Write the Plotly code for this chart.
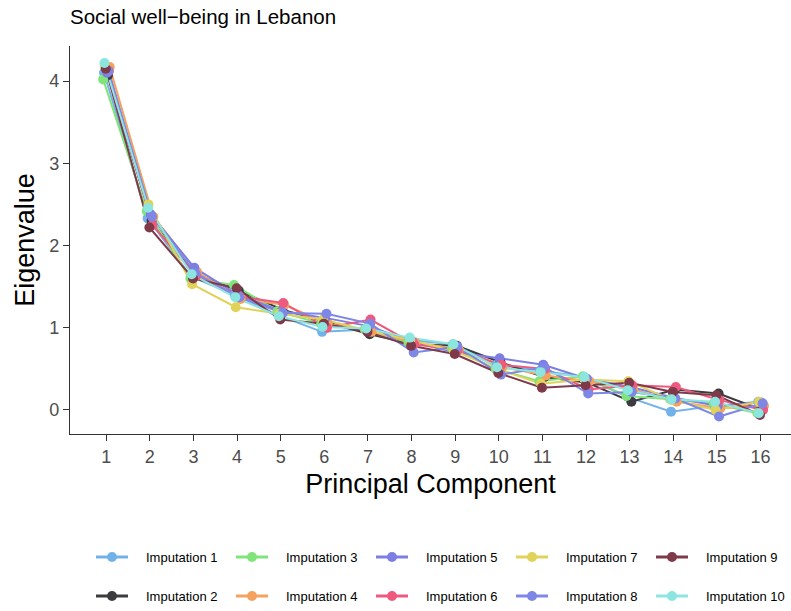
import plotly.graph_objects as go

# Eigenvalues of the 16 principal components, one list per imputed dataset
components = list(range(1, 17))

imp1 = [4.10, 2.33, 1.62, 1.40, 1.15, 0.95, 0.98, 0.85, 0.80, 0.55, 0.48, 0.40, 0.16, -0.02, 0.05, 0.10]
imp2 = [4.07, 2.30, 1.65, 1.45, 1.22, 1.07, 0.92, 0.80, 0.78, 0.58, 0.40, 0.33, 0.10, 0.25, 0.20, 0.00]
imp3 = [4.02, 2.42, 1.60, 1.52, 1.20, 1.05, 0.98, 0.82, 0.75, 0.50, 0.35, 0.41, 0.17, 0.13, 0.08, -0.04]
imp4 = [4.17, 2.35, 1.68, 1.35, 1.28, 1.05, 0.95, 0.82, 0.74, 0.52, 0.42, 0.35, 0.25, 0.10, 0.02, 0.05]
imp5 = [4.10, 2.38, 1.73, 1.40, 1.20, 1.12, 1.02, 0.83, 0.70, 0.63, 0.55, 0.38, 0.28, 0.15, 0.05, 0.09]
imp6 = [4.12, 2.25, 1.63, 1.38, 1.30, 1.00, 1.10, 0.80, 0.73, 0.55, 0.50, 0.25, 0.30, 0.28, 0.12, 0.00]
imp7 = [4.18, 2.50, 1.53, 1.25, 1.17, 1.10, 0.97, 0.85, 0.72, 0.50, 0.32, 0.37, 0.35, 0.12, 0.00, 0.10]
imp8 = [4.12, 2.35, 1.66, 1.37, 1.18, 1.17, 1.05, 0.70, 0.77, 0.43, 0.52, 0.20, 0.22, 0.14, -0.08, 0.08]
imp9 = [4.15, 2.22, 1.60, 1.48, 1.10, 1.05, 0.95, 0.78, 0.68, 0.45, 0.27, 0.30, 0.33, 0.22, 0.18, -0.06]
imp10 = [4.22, 2.46, 1.65, 1.37, 1.14, 1.01, 0.99, 0.88, 0.80, 0.52, 0.46, 0.40, 0.24, 0.13, 0.10, -0.04]

series = [imp1, imp2, imp3, imp4, imp5, imp6, imp7, imp8, imp9, imp10]
names = [f"Imputation {i}" for i in range(1, 11)]
colors = ["#72b2ea", "#3b3b40", "#80e47a", "#f4a25e", "#7c7ee4",
          "#ee5a7e", "#e1d25a", "#7e87e6", "#7f3a4a", "#8ce6df"]
# small horizontal dodge per imputation so overlapping points stay visible
dodge = [-0.05, 0.04, -0.07, 0.08, 0.02, 0.06, -0.03, 0.05, -0.01, -0.04]

FONT = "Liberation Sans, Arial, sans-serif"
fig = go.Figure()

# lines first, then points on top (like a line + point layer stack)
for vals, c, d, n in zip(series, colors, dodge, names):
    fig.add_trace(go.Scatter(x=[k + d for k in components], y=vals, mode="lines",
                             line=dict(color=c, width=2), name=n,
                             showlegend=False, hoverinfo="skip"))
for vals, c, d, n in zip(series, colors, dodge, names):
    fig.add_trace(go.Scatter(x=[k + d for k in components], y=vals, mode="markers",
                             marker=dict(color=c, size=10, line=dict(width=0)),
                             name=n, showlegend=False))

# legend: 2 rows x 5 columns, filled column by column
L, T, W, H = 70, 46, 721, 388
def px(xp):
    return (xp - L) / W
def py(yp):
    return (T + H - yp) / H

shapes, annos = [], []
for i, (n, c) in enumerate(zip(names, colors)):
    col, row = divmod(i, 2)
    cx = 112 + 140 * col
    cy = 557 + 39 * row
    shapes.append(dict(type="line", xref="paper", yref="paper",
                       x0=px(cx - 16), x1=px(cx + 16), y0=py(cy), y1=py(cy),
                       line=dict(color=c, width=3)))
    shapes.append(dict(type="circle", xref="paper", yref="paper",
                       xsizemode="pixel", ysizemode="pixel",
                       xanchor=px(cx), yanchor=py(cy),
                       x0=-5, x1=5, y0=-5, y1=5,
                       fillcolor=c, line=dict(width=0)))
    annos.append(dict(text=n, xref="paper", yref="paper", x=px(cx + 32), y=py(cy),
                      xanchor="left", yanchor="middle", showarrow=False,
                      font=dict(family=FONT, size=13, color="#000000")))

fig.update_layout(
    width=791, height=611,
    margin=dict(l=L, r=0, t=T, b=611 - T - H),
    paper_bgcolor="white", plot_bgcolor="white",
    font=dict(family=FONT),
    title=dict(text="Social well\u2212being in Lebanon", x=70 / 791, xanchor="left",
               y=1 - 17 / 611, yanchor="middle", yref="container",
               font=dict(family=FONT, size=20.5, color="#000000")),
    xaxis=dict(range=[0.17, 16.7], tickvals=components, ticktext=[str(k) for k in components],
               showgrid=False, zeroline=False, showline=True, linecolor="#333333", linewidth=1.2,
               ticks="outside", ticklen=6, tickwidth=1.2, tickcolor="#333333",
               tickfont=dict(family=FONT, size=18, color="#4d4d4d"),
               title=dict(text="Principal Component", standoff=8,
                          font=dict(family=FONT, size=27, color="#000000"))),
    yaxis=dict(range=[-0.292, 4.426], tickvals=[0, 1, 2, 3, 4],
               showgrid=False, zeroline=False, showline=True, linecolor="#333333", linewidth=1.2,
               ticks="outside", ticklen=6, tickwidth=1.2, tickcolor="#333333",
               tickfont=dict(family=FONT, size=18, color="#4d4d4d"),
               title=dict(text="Eigenvalue", standoff=6,
                          font=dict(family=FONT, size=27, color="#000000"))),
    shapes=shapes, annotations=annos, showlegend=False,
)

fig.write_html("out.html")
